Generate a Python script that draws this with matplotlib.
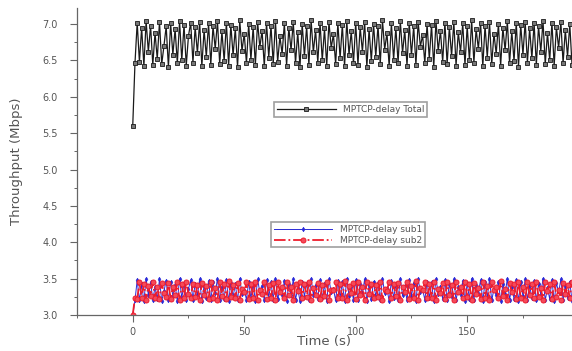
import numpy as np
import matplotlib
matplotlib.use("Agg")
import matplotlib.pyplot as plt
from matplotlib.ticker import MultipleLocator

# throughput samples, one per second
total = [
    5.60, 6.46,
    7.02, 6.48, 6.95, 6.42, 7.04, 6.62, 6.98, 6.44, 6.88, 6.52, 7.03, 6.45, 6.70, 6.97,
    6.41, 7.01, 6.58, 6.93, 6.46, 7.04, 6.50, 6.99, 6.43, 6.84, 7.02, 6.47, 6.96, 6.60,
    7.03, 6.42, 6.92, 6.55, 7.01, 6.44, 6.97, 6.66, 7.04, 6.45, 6.90, 6.49, 7.02, 6.43,
    6.99, 6.57, 6.94, 6.41, 7.05, 6.63, 6.87, 6.46, 7.00, 6.51, 6.96, 6.44, 7.03, 6.68,
    6.91, 6.42, 7.02, 6.54, 6.98, 6.45, 7.04, 6.48, 6.83, 6.59, 7.01, 6.43, 6.95, 6.64,
    7.03, 6.46, 6.89, 6.41, 7.00, 6.56, 6.97, 6.44, 7.05, 6.61, 6.92, 6.47, 7.02, 6.50,
    6.94, 6.43, 7.03, 6.67, 6.86, 6.45, 7.01, 6.53, 6.99, 6.42, 7.04, 6.58, 6.90, 6.46,
    7.02, 6.44, 6.96, 6.62, 7.03, 6.41, 6.93, 6.49, 7.00, 6.55, 6.98, 6.45, 7.05, 6.65,
    6.88, 6.42, 7.01, 6.51, 6.95, 6.47, 7.04, 6.60, 6.92, 6.43, 7.02, 6.57, 6.97, 6.44,
    7.03, 6.69, 6.85, 6.46, 7.00, 6.52, 6.99, 6.41, 7.04, 6.63, 6.91, 6.48, 7.02, 6.45,
    6.96, 6.56, 7.03, 6.43, 6.89, 6.61, 7.01, 6.44, 6.97, 6.50, 7.05, 6.47, 6.93, 6.66,
    7.02, 6.42, 6.98, 6.54, 7.03, 6.45, 6.87, 6.59, 7.00, 6.43, 6.95, 6.64, 7.04, 6.46,
    6.90, 6.49, 7.02, 6.41, 6.99, 6.58, 7.03, 6.47, 6.94, 6.53, 7.01, 6.44, 6.97, 6.62,
    7.04, 6.45, 6.88, 6.50, 7.02, 6.43, 6.96, 6.67, 7.03, 6.46, 6.92, 6.55, 7.00, 6.44,
]

sub1 = [
    3.00, 3.20,
    3.48, 3.20, 3.42, 3.19, 3.50, 3.28, 3.45, 3.21, 3.38, 3.22, 3.49, 3.19, 3.33, 3.47,
    3.20, 3.46, 3.26, 3.41, 3.19, 3.50, 3.23, 3.44, 3.20, 3.36, 3.48, 3.21, 3.43, 3.27,
    3.49, 3.19, 3.40, 3.24, 3.47, 3.20, 3.45, 3.30, 3.50, 3.21, 3.39, 3.22, 3.48, 3.19,
    3.44, 3.25, 3.42, 3.20, 3.50, 3.29, 3.35, 3.21, 3.46, 3.23, 3.43, 3.19, 3.49, 3.31,
    3.40, 3.20, 3.48, 3.24, 3.45, 3.21, 3.50, 3.22, 3.34, 3.27, 3.47, 3.19, 3.42, 3.28,
    3.49, 3.21, 3.37, 3.19, 3.46, 3.25, 3.44, 3.20, 3.50, 3.28, 3.41, 3.22, 3.48, 3.23,
    3.42, 3.19, 3.49, 3.31, 3.36, 3.20, 3.47, 3.24, 3.45, 3.19, 3.50, 3.26, 3.39, 3.21,
    3.48, 3.20, 3.43, 3.29, 3.49, 3.19, 3.41, 3.22, 3.46, 3.25, 3.44, 3.20, 3.50, 3.30,
    3.37, 3.19, 3.47, 3.23, 3.42, 3.21, 3.50, 3.27, 3.40, 3.20, 3.48, 3.26, 3.44, 3.19,
    3.49, 3.32, 3.35, 3.21, 3.46, 3.23, 3.45, 3.19, 3.50, 3.29, 3.39, 3.22, 3.48, 3.20,
    3.43, 3.25, 3.49, 3.20, 3.38, 3.28, 3.47, 3.19, 3.44, 3.22, 3.50, 3.21, 3.41, 3.30,
    3.48, 3.19, 3.45, 3.24, 3.49, 3.20, 3.36, 3.27, 3.46, 3.19, 3.42, 3.29, 3.50, 3.21,
    3.39, 3.22, 3.48, 3.19, 3.45, 3.26, 3.49, 3.21, 3.41, 3.23, 3.47, 3.20, 3.43, 3.28,
    3.50, 3.20, 3.37, 3.22, 3.48, 3.19, 3.44, 3.31, 3.49, 3.21, 3.40, 3.24, 3.46, 3.19,
]

sub2 = [
    3.00, 3.24,
    3.22, 3.45, 3.24, 3.43, 3.21, 3.40, 3.26, 3.46, 3.23, 3.38, 3.22, 3.44, 3.30, 3.25,
    3.44, 3.22, 3.39, 3.27, 3.45, 3.21, 3.42, 3.24, 3.46, 3.29, 3.23, 3.43, 3.25, 3.41,
    3.21, 3.44, 3.28, 3.40, 3.22, 3.46, 3.23, 3.37, 3.21, 3.45, 3.26, 3.42, 3.22, 3.47,
    3.25, 3.41, 3.23, 3.44, 3.21, 3.36, 3.31, 3.45, 3.22, 3.43, 3.24, 3.46, 3.21, 3.35,
    3.29, 3.45, 3.22, 3.41, 3.24, 3.44, 3.21, 3.46, 3.32, 3.39, 3.23, 3.45, 3.27, 3.38,
    3.21, 3.43, 3.33, 3.46, 3.24, 3.42, 3.25, 3.45, 3.21, 3.37, 3.28, 3.44, 3.22, 3.41,
    3.26, 3.46, 3.21, 3.35, 3.34, 3.45, 3.23, 3.42, 3.24, 3.47, 3.21, 3.40, 3.30, 3.44,
    3.22, 3.45, 3.27, 3.38, 3.21, 3.46, 3.29, 3.43, 3.23, 3.41, 3.25, 3.45, 3.21, 3.36,
    3.33, 3.46, 3.23, 3.42, 3.26, 3.44, 3.21, 3.39, 3.31, 3.45, 3.22, 3.40, 3.24, 3.47,
    3.21, 3.37, 3.35, 3.45, 3.23, 3.43, 3.24, 3.46, 3.21, 3.36, 3.30, 3.44, 3.22, 3.45,
    3.27, 3.41, 3.21, 3.46, 3.32, 3.38, 3.23, 3.45, 3.25, 3.42, 3.21, 3.44, 3.29, 3.37,
    3.22, 3.46, 3.24, 3.40, 3.21, 3.45, 3.34, 3.39, 3.23, 3.47, 3.26, 3.36, 3.21, 3.44,
    3.31, 3.43, 3.22, 3.46, 3.24, 3.38, 3.21, 3.45, 3.28, 3.42, 3.23, 3.46, 3.25, 3.37,
    3.21, 3.45, 3.33, 3.43, 3.22, 3.46, 3.25, 3.35, 3.21, 3.44, 3.29, 3.41, 3.23, 3.46,
]

time = np.arange(len(total))

labels = ["MPTCP-delay Total", "MPTCP-delay sub1", "MPTCP-delay sub2"]

fig = plt.figure(figsize=(5.72, 3.51), dpi=100)
ax = fig.add_axes([0.1346, 0.1026, 0.8654, 0.8744])

l_total, = ax.plot(time, total, color="#1a1a1a", lw=0.9,
                   marker="s", ms=3.2, mfc="#777777", mew=0.6, label=labels[0])
l_sub1, = ax.plot(time, sub1, color="#2a2ad8", lw=0.7,
                  marker="d", ms=2.4, mew=0.4, label=labels[1])
l_sub2, = ax.plot(time, sub2, color="#ee1c2c", lw=1.3, ls="-.",
                  marker="o", ms=3.6, mfc="#f44a5a", mew=0.7, label=labels[2])

ax.set_xlim(-25, 197)
ax.set_ylim(3.0, 7.22)
ax.xaxis.set_major_locator(MultipleLocator(50))
ax.xaxis.set_minor_locator(MultipleLocator(25))
ax.yaxis.set_major_locator(MultipleLocator(0.5))
ax.yaxis.set_minor_locator(MultipleLocator(0.25))

for side in ["top", "right"]:
    ax.spines[side].set_visible(False)
for side in ["left", "bottom"]:
    ax.spines[side].set_color("#666666")
    ax.spines[side].set_linewidth(0.9)

ax.tick_params(which="major", direction="out", length=5, width=0.8,
               color="#666666", labelsize=7, labelcolor="#555555")
ax.tick_params(axis="y", which="major", pad=9)
ax.tick_params(which="minor", direction="out", length=2.5, width=0.7,
               color="#666666")

ax.set_xlabel("Time (s)", fontsize=9.5, color="#555555", labelpad=-1)
ax.set_ylabel("Throughput (Mbps)", fontsize=9.5, color="#555555", labelpad=14)

leg1 = ax.legend(handles=[l_total], loc="center", bbox_to_anchor=(0.553, 0.670),
                 fontsize=6.5, fancybox=False, edgecolor="#888888",
                 handlelength=6.5, borderpad=0.3, labelcolor="#555555")
leg1.get_frame().set_linewidth(1.2)
ax.add_artist(leg1)

leg2 = ax.legend(handles=[l_sub1, l_sub2], loc="center", bbox_to_anchor=(0.547, 0.261),
                 fontsize=6.5, fancybox=False, edgecolor="#888888",
                 handlelength=6.5, borderpad=0.3, labelspacing=0.2, labelcolor="#555555")
leg2.get_frame().set_linewidth(1.2)

fig.savefig("out.png", dpi=100)
